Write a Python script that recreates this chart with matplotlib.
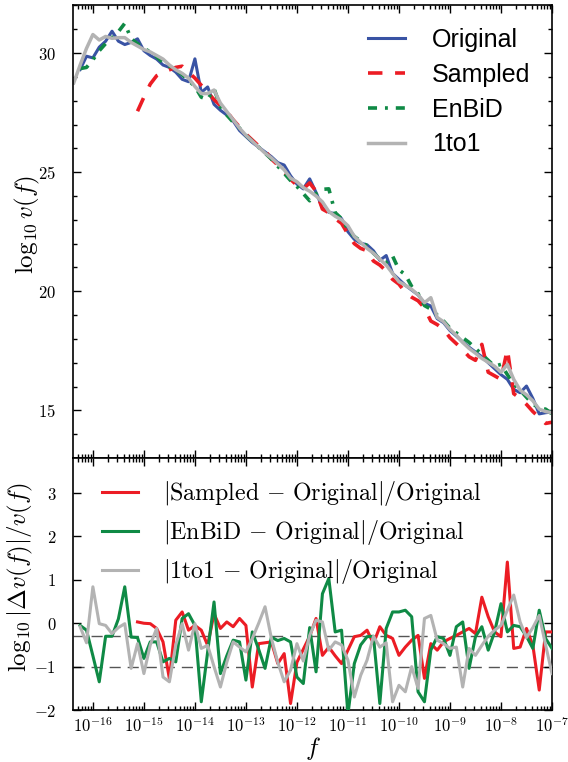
import numpy as np
import matplotlib
matplotlib.use("Agg")
import matplotlib.pyplot as plt
from matplotlib.ticker import FixedLocator, FuncFormatter, NullFormatter, MultipleLocator

plt.rcParams['mathtext.fontset'] = 'cm'
plt.rcParams['font.family'] = ['DejaVu Serif']

nan = np.nan
log_f = [-16.375, -16.25, -16.125, -16.0, -15.875, -15.75, -15.625, -15.5, -15.375, -15.25,
         -15.125, -15.0, -14.875, -14.75, -14.625, -14.5, -14.375, -14.25, -14.125, -14.0,
         -13.875, -13.75, -13.625, -13.5, -13.375, -13.25, -13.125, -13.0, -12.875, -12.75,
         -12.625, -12.5, -12.375, -12.25, -12.125, -12.0, -11.875, -11.75, -11.625, -11.5,
         -11.375, -11.25, -11.125, -11.0, -10.875, -10.75, -10.625, -10.5, -10.375, -10.25,
         -10.125, -10.0, -9.875, -9.75, -9.625, -9.5, -9.375, -9.25, -9.125, -9.0,
         -8.875, -8.75, -8.625, -8.5, -8.375, -8.25, -8.125, -8.0, -7.875, -7.75,
         -7.625, -7.5, -7.375, -7.25, -7.125, -7.0]

original = [nan, 29.31, 29.87, 29.8, 30.25, 30.5, 30.92, 30.5, 30.36, 30.45,
            30.6, 30.1, 29.9, 29.75, 29.5, 29.4, 29.2, 28.9, 28.8, 29.76,
            28.35, 28.58, 27.85, 27.6, 27.4, 27.15, 26.75, 26.5, 26.25, 26.05,
            25.85, 25.65, 25.4, 25.3, 24.85, 24.5, 24.3, 24.72, 24.15, 23.5,
            23.32, 23.25, 23.05, 22.5, 22.18, 22.02, 21.95, 21.7, 21.3, 21.5,
            20.75, 20.5, 20.25, 20.05, 19.85, 19.5, 19.38, 18.85, 18.68, 18.35,
            18.12, 17.87, 17.65, 17.45, 17.25, 17.0, 16.75, 16.5, 16.3, 15.88,
            15.74, 16.02, 15.5, 14.85, 14.9, 14.93]

sampled = [nan, nan, nan, nan, nan, nan, nan, nan, nan, nan,
           27.56, 28.15, 28.7, 29.05, 29.2, 29.3, 29.4, 29.45, 29.2, 28.95,
           28.65, 28.35, 28.05, 27.8, 27.55, 27.2, 26.9, 26.6, 26.35, 26.1,
           25.9, 25.55, 25.3, 25.0, 24.7, 24.45, 24.3, 24.55, 24.2, 23.45,
           23.3, 23.05, 22.85, 22.4, 22.0, 21.8, 21.7, 21.27, 21.1, 20.85,
           20.5, 20.3, 19.95, 19.75, 19.6, 19.3, 18.75, 18.6, 18.4, 18.05,
           17.8, 17.55, 17.25, 17.1, 17.77, 16.6, 16.45, 16.3, 17.56, 15.7,
           15.5, 15.25, 14.95, 14.7, 14.45, 14.5]

enbid = [nan, 29.35, 29.4, 29.72, 30.1, 30.4, 30.65, 30.9, 31.25, 30.6,
         30.4, 30.2, 30.05, 29.85, 29.6, 29.45, 29.3, 29.1, 28.85, 28.6,
         28.15, 28.05, 28.5, 27.75, 27.4, 27.1, 26.85, 26.55, 26.3, 26.05,
         25.8, 25.55, 25.25, 24.95, 24.65, 24.4, 24.1, 23.8, 24.1, 24.28,
         24.3, 23.3, 23.05, 22.6, 22.3, 22.1, 21.9, 21.6, 21.35, 21.2,
         21.48, 20.9, 20.7, 20.2, 19.9, 19.4, 19.25, 19.0, 18.75, 18.45,
         18.25, 18.05, 17.85, 17.6, 17.35, 17.1, 16.85, 16.93, 16.5, 16.1,
         15.85, 15.55, 15.26, 15.1, 15.05, 14.85]

one_to_one = [28.75, 29.5, 30.2, 30.78, 30.55, 30.7, 30.62, 30.65, 30.65, 30.45,
              30.3, 30.15, 30.05, 29.9, 29.75, 29.5, 29.3, 29.15, 28.95, 28.6,
              28.3, 28.3, 28.45, 27.9, 27.55, 27.2, 26.85, 26.55, 26.3, 26.05,
              25.8, 25.6, 25.35, 25.1, 24.75, 24.6, 24.35, 24.2, 24.0, 23.75,
              23.35, 23.15, 23.0, 22.75, 22.3, 22.05, 21.8, 21.6, 21.35, 21.1,
              20.75, 20.4, 20.25, 20.08, 19.85, 19.52, 19.73, 18.9, 18.72, 18.4,
              18.15, 17.85, 17.6, 17.4, 17.18, 17.02, 16.85, 16.6, 16.93, 16.3,
              15.85, 15.65, 15.4, 15.05, 14.95, 14.9]

diff_sampled = [nan, nan, nan, nan, nan, nan, nan, nan, nan, nan,
                0.03, 0.0, -0.01, -0.12, -0.43, -1.28, 0.07, 0.26, -0.16, -0.05,
                -0.16, -0.51, 0.22, -0.12, 0.03, -0.08, 0.11, -0.05, -1.47, -0.47,
                -0.45, -0.43, -0.93, -0.7, -1.85, -0.9, -0.6, -0.3, 0.11, -0.74,
                -0.55, -0.75, -0.93, -0.62, -0.31, -0.28, -0.16, -0.47, -0.08, -0.28,
                -0.35, -0.74, -0.55, -0.39, -0.28, -1.27, -0.47, -0.62, -0.43, -0.35,
                -0.28, -0.2, -0.12, -0.24, 0.6, 0.15, -0.2, -0.31, 1.41, -0.58,
                -0.55, -0.12, -0.51, -1.54, -0.2, -0.2]

diff_enbid = [nan, -0.05, -0.16, -0.75, -1.35, -0.3, -0.3, 0.1, 0.84, -0.32,
              -0.33, -0.81, -0.43, -0.43, -0.89, -0.81, -0.89, 0.11, 0.22, -0.05,
              -1.81, -0.66, 0.49, -1.16, -0.75, -0.39, -0.43, -1.31, -0.2, -0.6,
              -1.04, -0.32, -0.4, -0.35, -0.43, -1.24, -1.39, -0.1, -1.12, 0.68,
              1.03, -0.2, -0.16, -2.1, -0.93, -0.5, -0.31, -0.3, -1.85, -0.12,
              0.26, 0.26, 0.3, 0.15, -1.58, -1.81, -0.62, -0.31, -0.35, -0.74,
              -0.08, 0.03, -1.04, -0.31, -0.08, -0.62, -0.2, 0.45, -0.2, -0.05,
              -0.08, -0.3, -0.58, 0.3, -0.35, -0.58]

diff_one_to_one = [nan, -0.08, -0.45, 0.84, -0.01, -0.05, -0.24, -0.1, -0.01, -1.04,
                   -0.47, -1.16, -0.5, -0.12, -1.24, -1.35, -0.5, -0.01, -0.62, -0.01,
                   -0.58, -0.51, -1.0, -1.47, -0.9, -0.43, -0.55, -0.66, -0.35, 0.0,
                   0.38, -0.35, -0.9, -1.35, -1.08, -0.47, -0.87, -0.28, 0.07, 0.03,
                   -0.62, -0.43, -0.5, -0.85, -1.7, -1.2, -0.85, -0.3, -0.55, -0.45,
                   -1.81, -1.43, -1.58, -1.0, -1.5, 0.11, 0.18, -0.39, -0.47, -0.58,
                   -0.55, -1.47, -0.58, -0.74, -0.51, -0.3, -0.16, -0.05, 0.3, 0.65,
                   0.03, -0.33, -0.1, 0.18, -0.5, -1.16]

ref_levels = [-0.3, -1.0]
x_tick_exponents = [-16, -15, -14, -13, -12, -11, -10, -9, -8, -7]
top_y_ticks = [15, 20, 25, 30]
bottom_y_ticks = [-2, -1, 0, 1, 2, 3]
top_labels = ['Original', 'Sampled', 'EnBiD', '1to1']
bottom_labels = [r'$|\mathrm{Sampled}\,-\,\mathrm{Original}|/\mathrm{Original}$',
                 r'$|\mathrm{EnBiD}\,-\,\mathrm{Original}|/\mathrm{Original}$',
                 r'$|\mathrm{1to1}\,-\,\mathrm{Original}|/\mathrm{Original}$']

C_BLUE = '#3953a4'
C_RED = '#ec1c24'
C_GREEN = '#0f8a45'
C_GRAY = '#b3b3b3'

f = 10.0 ** np.array(log_f)

fig = plt.figure(figsize=(5.68, 7.62), dpi=100)
ax1 = fig.add_axes([0.1285, 0.3990, 0.8433, 0.5938])
ax2 = fig.add_axes([0.1285, 0.0682, 0.8433, 0.3303], sharex=ax1)

lw = 2.2
ax1.plot(f, original, color=C_BLUE, lw=lw, label=top_labels[0])
ax1.plot(f, sampled, color=C_RED, lw=lw + 0.4, ls=(0, (4, 3.5)), label=top_labels[1])
ax1.plot(f, enbid, color=C_GREEN, lw=lw + 0.4, ls=(0, (2.5, 2.2, 0.8, 2.2)), label=top_labels[2])
ax1.plot(f, one_to_one, color=C_GRAY, lw=lw + 0.3, label=top_labels[3])

for lv in ref_levels:
    ax2.axhline(lv, color='#555555', lw=1.0, ls=(0, (8, 5)), zorder=1)
ax2.plot(f, diff_sampled, color=C_RED, lw=lw, label=bottom_labels[0], zorder=3)
ax2.plot(f, diff_enbid, color=C_GREEN, lw=lw, label=bottom_labels[1], zorder=3)
ax2.plot(f, diff_one_to_one, color=C_GRAY, lw=lw, label=bottom_labels[2], zorder=3)

ax1.set_xscale('log')
ax1.set_xlim(10 ** -16.39, 1e-7)
ax1.set_ylim(13, 32)
ax2.set_ylim(-2, 3.8)

def logfmt(v, pos):
    e = int(round(np.log10(v)))
    return r'$10^{%d}$' % e

def intfmt(v, pos):
    return r'$%d$' % int(round(v))

major_x = [10.0 ** e for e in x_tick_exponents]
minor_x = [m * 10.0 ** e for e in [-17] + x_tick_exponents[:-1] for m in range(2, 10)]
minor_x = [v for v in minor_x if 10 ** -16.39 <= v <= 1e-7]
ax2.xaxis.set_major_locator(FixedLocator(major_x))
ax2.xaxis.set_minor_locator(FixedLocator(minor_x))
ax2.xaxis.set_major_formatter(FuncFormatter(logfmt))
ax2.xaxis.set_minor_formatter(NullFormatter())
plt.setp(ax1.get_xticklabels(), visible=False)

ax1.yaxis.set_major_locator(FixedLocator(top_y_ticks))
ax1.yaxis.set_minor_locator(MultipleLocator(1))
ax1.yaxis.set_major_formatter(FuncFormatter(intfmt))
ax2.yaxis.set_major_locator(FixedLocator(bottom_y_ticks))
ax2.yaxis.set_major_formatter(FuncFormatter(intfmt))

for ax in (ax1, ax2):
    ax.tick_params(which='both', direction='in', top=True, right=True, width=1.0)
    ax.tick_params(which='major', length=5.5)
    ax.tick_params(which='minor', length=3)
    ax.tick_params(axis='y', which='both', pad=12, labelsize=12)
    ax.tick_params(axis='x', which='both', pad=5, labelsize=12)
    for s in ax.spines.values():
        s.set_linewidth(1.2)

ax1.set_ylabel(r'$\log_{10} v(f)$', fontsize=18)
ax1.yaxis.set_label_coords(-0.064, 0.515)
ax2.set_ylabel(r'$\log_{10}|\Delta v(f)|/v(f)$', fontsize=18)
ax2.yaxis.set_label_coords(-0.08, 0.53)
ax2.set_xlabel(r'$f$', fontsize=18, va='top')
ax2.xaxis.set_label_coords(0.5, -0.10)

leg1 = ax1.legend(loc='upper left', bbox_to_anchor=(0.616, 0.950), frameon=False,
                  prop={'family': 'Liberation Sans', 'size': 18},
                  handlelength=1.48, handletextpad=1.08, labelspacing=0.43,
                  borderpad=0, borderaxespad=0)
leg2 = ax2.legend(loc='upper left', bbox_to_anchor=(0.0615, 0.918), frameon=False,
                  fontsize=17.2, handlelength=1.5, handletextpad=1.05, labelspacing=0.42,
                  borderpad=0, borderaxespad=0)

fig.savefig('out.png', dpi=100)
